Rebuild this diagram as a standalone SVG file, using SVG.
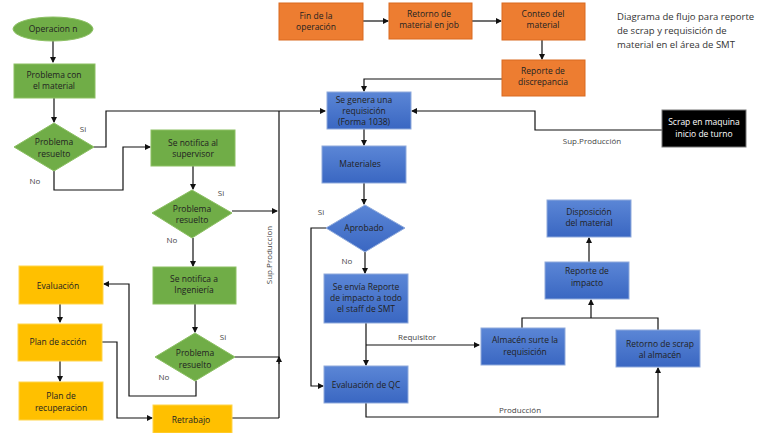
<svg xmlns="http://www.w3.org/2000/svg" width="768" height="433" viewBox="0 0 768 433">
<defs>
<marker id="a" markerWidth="6" markerHeight="6" refX="5" refY="3" orient="auto" markerUnits="userSpaceOnUse"><path d="M0,0 L6,3 L0,6 z" fill="#111"/></marker>
<linearGradient id="bl" x1="0" y1="0" x2="0" y2="1"><stop offset="0" stop-color="#5b86d6"/><stop offset="1" stop-color="#3a67c2"/></linearGradient>
</defs>
<style>
text{font-family:"Open Sans","Liberation Sans",sans-serif;font-size:8.5px;fill:#222;text-anchor:middle}
.g{fill:#70ad47;stroke:#8cc063;stroke-width:1}
.o{fill:#ed7d31;stroke:#d96a20;stroke-width:1}
.b{fill:url(#bl);stroke:#8faadc;stroke-width:1}
.y{fill:#ffc000;stroke:#ffd54d;stroke-width:1}
.k{fill:#000;stroke:#777;stroke-width:1}
.l{fill:none;stroke:#111;stroke-width:1.2}
.lab{fill:#444;font-size:8px}
.w{fill:#fff}
.t{text-anchor:start;font-size:9.5px;fill:#333}
</style>
<rect width="768" height="433" fill="#fff"/>
<g id="conn">
<path class="l" d="M53,41V62" marker-end="url(#a)"/>
<path class="l" d="M54,98V122" marker-end="url(#a)"/>
<path class="l" d="M94,147H106V111H325" marker-end="url(#a)"/>
<path class="l" d="M54,171V190H123V147H150" marker-end="url(#a)"/>
<path class="l" d="M193,166V189" marker-end="url(#a)"/>
<path class="l" d="M232,211H277" marker-end="url(#a)"/>
<path class="l" d="M193,238V266" marker-end="url(#a)"/>
<path class="l" d="M195,304V332" marker-end="url(#a)"/>
<path class="l" d="M235,357H279"/>
<path class="l" d="M279,418V111"/>
<path class="l" d="M279,364V357" marker-end="url(#a)"/>
<path class="l" d="M196,381V396H129V284H104" marker-end="url(#a)"/>
<path class="l" d="M60,304V322" marker-end="url(#a)"/>
<path class="l" d="M60,361V381" marker-end="url(#a)"/>
<path class="l" d="M102,342H117V418H152" marker-end="url(#a)"/>
<path class="l" d="M232,418H279"/>
<path class="l" d="M363,21H388" marker-end="url(#a)"/>
<path class="l" d="M472,21H501" marker-end="url(#a)"/>
<path class="l" d="M542,40V59" marker-end="url(#a)"/>
<path class="l" d="M502,79H364V91" marker-end="url(#a)"/>
<path class="l" d="M662,130H535V111H412" marker-end="url(#a)"/>
<path class="l" d="M364,129V145" marker-end="url(#a)"/>
<path class="l" d="M364,183V204" marker-end="url(#a)"/>
<path class="l" d="M326,228H311V386H323" marker-end="url(#a)"/>
<path class="l" d="M365,252V273" marker-end="url(#a)"/>
<path class="l" d="M366,323V365" marker-end="url(#a)"/>
<path class="l" d="M366,345H479" marker-end="url(#a)"/>
<path class="l" d="M366,403V417H658V368" marker-end="url(#a)"/>
<path class="l" d="M522,328V318H658V330M591,318V300" marker-end="url(#a)"/>
<path class="l" d="M589,262V238" marker-end="url(#a)"/>
<text class="lab" x="83" y="132">Si</text>
<text class="lab" x="35" y="184">No</text>
<text class="lab" x="221" y="196">Si</text>
<text class="lab" x="172" y="243">No</text>
<text class="lab" x="223" y="340">Si</text>
<text class="lab" x="164" y="380">No</text>
<text class="lab" x="272" y="255" transform="rotate(-90 272 255)">Sup.Produccion</text>
<text class="lab" x="592" y="144">Sup.Producción</text>
<text class="lab" x="321" y="215">Si</text>
<text class="lab" x="347" y="264">No</text>
<text class="lab" x="417" y="340">Requisitor</text>
<text class="lab" x="520" y="413">Producción</text>
</g>
<g id="n1"><ellipse class="g" cx="53" cy="29" rx="40" ry="12"/><text x="53" y="32">Operacion n</text></g>
<g id="n2"><rect class="g" x="14" y="64" width="81" height="34"/><text x="54" y="78">Problema con</text><text x="54" y="89">el material</text></g>
<g id="n3"><polygon class="g" points="54,123 94,147 54,171 14,147"/><text x="54" y="145">Problema</text><text x="54" y="157">resuelto</text></g>
<g id="n4"><rect class="g" x="151" y="130" width="84" height="36"/><text x="193" y="146">Se notifica al</text><text x="193" y="157">supervisor</text></g>
<g id="n5"><polygon class="g" points="192,190 232,213 192,238 152,213"/><text x="192" y="212">Problema</text><text x="192" y="223">resuelto</text></g>
<g id="n6"><rect class="g" x="153" y="267" width="83" height="37"/><text x="194" y="282">Se notifica a</text><text x="194" y="293">Ingeniería</text></g>
<g id="n7"><polygon class="g" points="195,333 235,357 195,381 155,357"/><text x="195" y="356">Problema</text><text x="195" y="368">resuelto</text></g>
<g id="n8"><rect class="y" x="19" y="266" width="84" height="38"/><text x="58" y="289">Evaluación</text></g>
<g id="n9"><rect class="y" x="18" y="324" width="84" height="37"/><text x="58" y="345">Plan de acción</text></g>
<g id="n10"><rect class="y" x="19" y="382" width="84" height="38"/><text x="61" y="399">Plan de</text><text x="61" y="411">recuperacion</text></g>
<g id="n11"><rect class="y" x="153" y="405" width="79" height="28"/><text x="191" y="423">Retrabajo</text></g>
<g id="n12"><rect class="o" x="279" y="3" width="84" height="37"/><text x="316" y="19">Fin de la</text><text x="316" y="30">operación</text></g>
<g id="n13"><rect class="o" x="389" y="3" width="83" height="36"/><text x="429" y="17">Retorno de</text><text x="429" y="28">material en job</text></g>
<g id="n14"><rect class="o" x="502" y="3" width="83" height="37"/><text x="543" y="17">Conteo del</text><text x="543" y="28">material</text></g>
<g id="n15"><rect class="o" x="502" y="60" width="83" height="36"/><text x="543" y="74">Reporte de</text><text x="543" y="85">discrepancia</text></g>
<g id="n16"><rect class="b" x="327" y="92" width="84" height="37"/><text x="364" y="103">Se genera una</text><text x="364" y="114">requisición</text><text x="364" y="125">(Forma 1038)</text></g>
<g id="n17"><rect class="b" x="322" y="146" width="84" height="37"/><text x="360" y="167">Materiales</text></g>
<g id="n18"><polygon class="b" points="365,205 405,228 365,252 326,228"/><text x="364" y="231">Aprobado</text></g>
<g id="n19"><rect class="b" x="324" y="274" width="84" height="49"/><text x="366" y="290">Se envía Reporte</text><text x="366" y="301">de impacto a todo</text><text x="366" y="312">el  staff de SMT</text></g>
<g id="n20"><rect class="b" x="324" y="366" width="84" height="37"/><text x="366" y="388">Evaluación de QC</text></g>
<g id="n21"><rect class="b" x="481" y="328" width="84" height="37"/><text x="525" y="343">Almacén surte la</text><text x="525" y="355">requisición</text></g>
<g id="n22"><rect class="b" x="616" y="330" width="84" height="37"/><text x="660" y="347">Retorno de scrap</text><text x="660" y="358">al almacén</text></g>
<g id="n23"><rect class="b" x="545" y="262" width="84" height="37"/><text x="587" y="274">Reporte de</text><text x="587" y="286">impacto</text></g>
<g id="n24"><rect class="b" x="547" y="200" width="84" height="37"/><text x="589" y="215">Disposición</text><text x="589" y="226">del material</text></g>
<g id="n25"><rect class="k" x="662" y="110" width="84" height="37"/><text class="w" x="704" y="125">Scrap en maquina</text><text class="w" x="704" y="137">inicio de turno</text></g>
<g id="title"><text class="t" x="617" y="20">Diagrama de flujo para reporte</text><text class="t" x="617" y="34">de scrap y requisición de</text><text class="t" x="617" y="48">material en el área de SMT</text></g>
</svg>
